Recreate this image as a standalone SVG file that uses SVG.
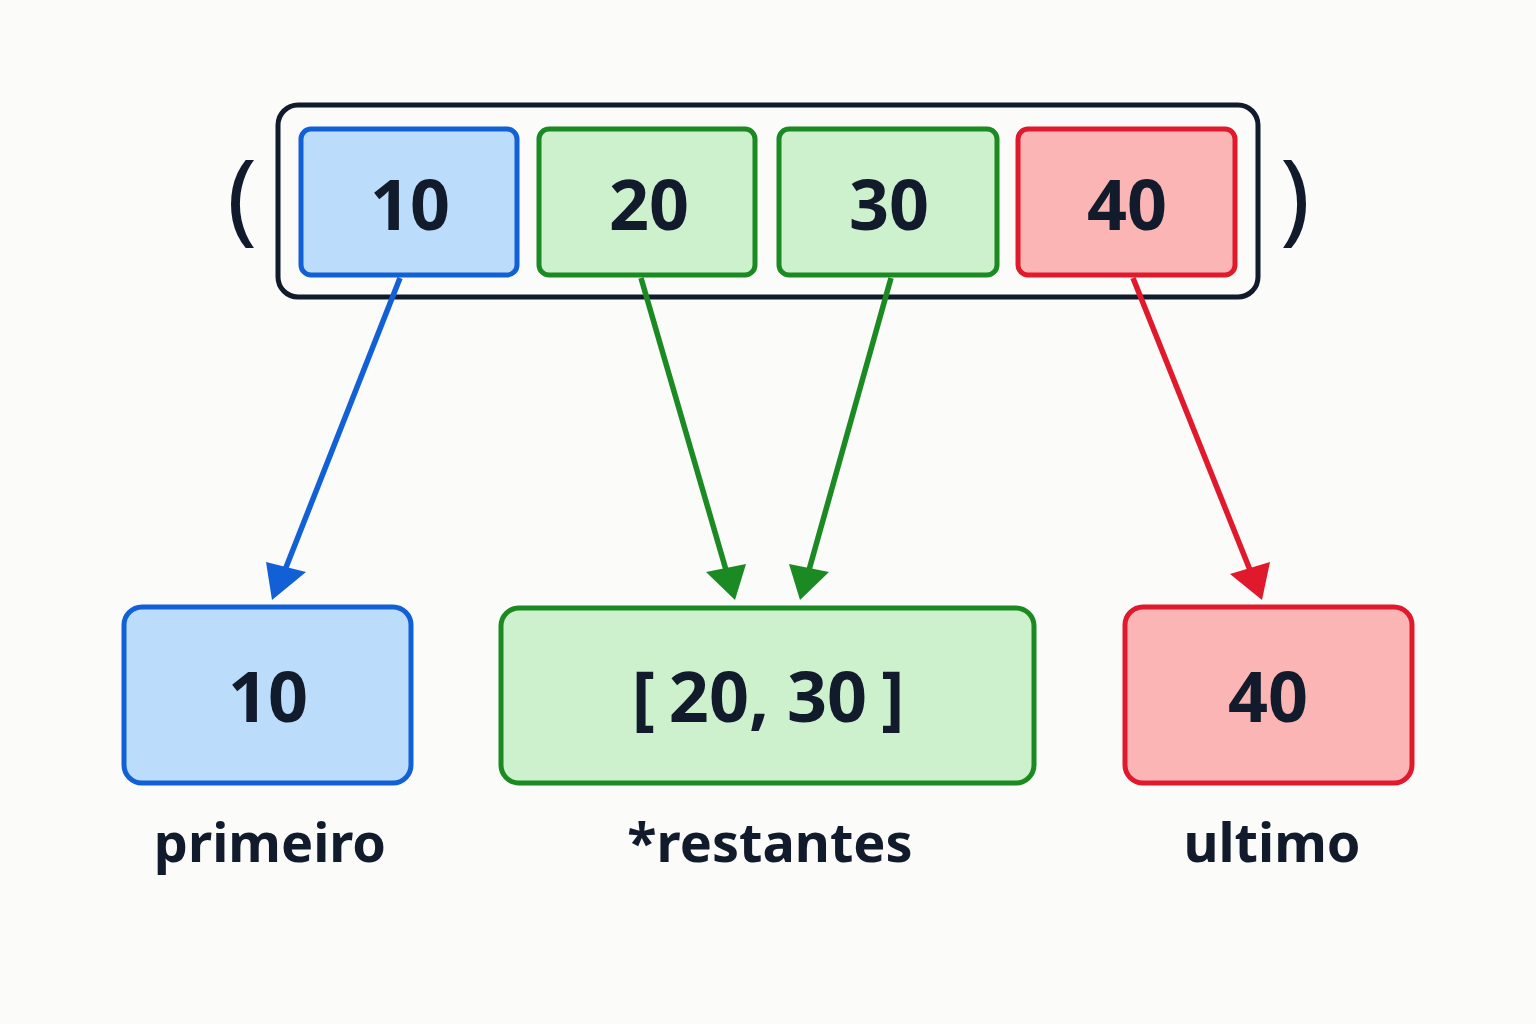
<svg xmlns="http://www.w3.org/2000/svg" width="1536" height="1024" viewBox="0 0 1536 1024">
<style>
text{font-family:"Noto Sans","DejaVu Sans",sans-serif;font-weight:bold;fill:#111b2b;text-anchor:middle}
.n{font-size:70px}
.l{font-size:54px}
.b{fill:#bcdcfb;stroke:#1260d6;stroke-width:5}
.g{fill:#cdf0cd;stroke:#1b8a23;stroke-width:5}
.r{fill:#fbb5b5;stroke:#e01a2c;stroke-width:5}
</style>
<rect width="1536" height="1024" fill="#fbfbf9"/>
<g id="tuple">
<rect x="278" y="105" width="980" height="192" rx="20" fill="none" stroke="#111b2b" stroke-width="5"/>
<text x="242" y="232" font-size="100" style="font-weight:normal">(</text>
<text x="1295" y="232" font-size="100" style="font-weight:normal">)</text>
</g>
<g id="t10"><rect class="b" x="301" y="129" width="216" height="146" rx="10"/><text class="n" x="410" y="230">10</text></g>
<g id="t20"><rect class="g" x="539" y="129" width="216" height="146" rx="10"/><text class="n" x="649" y="230">20</text></g>
<g id="t30"><rect class="g" x="779" y="129" width="218" height="146" rx="10"/><text class="n" x="889" y="230">30</text></g>
<g id="t40"><rect class="r" x="1018" y="129" width="217" height="146" rx="10"/><text class="n" x="1127" y="230">40</text></g>
<g id="connectors" stroke-width="5.5" fill="none">
<line x1="400" y1="278" x2="285" y2="570" stroke="#1260d6"/>
<polygon points="266,562 306,572 272,600" fill="#1260d6"/>
<line x1="641" y1="278" x2="726" y2="570" stroke="#1b8a23"/>
<polygon points="706,572 746,564 735,600" fill="#1b8a23"/>
<line x1="891" y1="278" x2="809" y2="570" stroke="#1b8a23"/>
<polygon points="789,564 829,572 800,600" fill="#1b8a23"/>
<line x1="1133" y1="278" x2="1250" y2="570" stroke="#e01a2c"/>
<polygon points="1230,574 1270,562 1262,600" fill="#e01a2c"/>
</g>
<g id="primeiro"><rect class="b" x="124" y="607" width="287" height="176" rx="18"/><text class="n" x="268" y="722">10</text><text class="l" x="270" y="862">primeiro</text></g>
<g id="restantes"><rect class="g" x="501" y="608" width="533" height="175" rx="18"/><text class="n" x="768" y="722"><tspan>[</tspan><tspan dx="14">20, 30</tspan><tspan dx="14">]</tspan></text><text class="l" x="770" y="862">*restantes</text></g>
<g id="ultimo"><rect class="r" x="1125" y="607" width="287" height="176" rx="18"/><text class="n" x="1268" y="722">40</text><text class="l" x="1272" y="862">ultimo</text></g>
</svg>
